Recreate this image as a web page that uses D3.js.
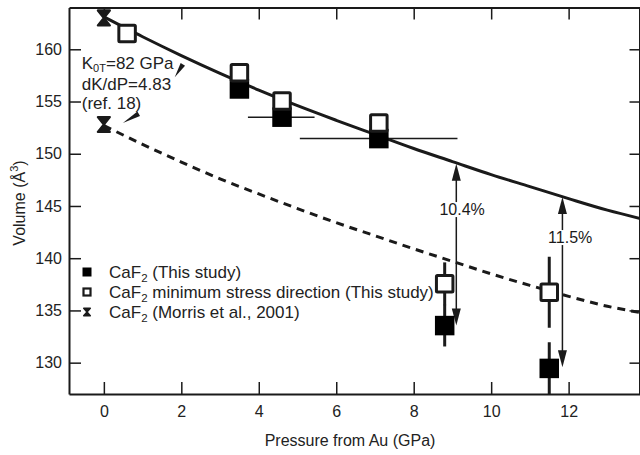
<!DOCTYPE html>
<html>
<head>
<meta charset="utf-8">
<script src="https://cdn.jsdelivr.net/npm/d3@7"></script>
<style>
  html, body { margin: 0; padding: 0; background: #fff; }
  svg { display: block; font-family: "Liberation Sans", Arial, sans-serif; }
</style>
</head>
<body>
<svg id="chart" width="640" height="455"></svg>
<script>
// ---------------- data ----------------
const xTicks = [0, 2, 4, 6, 8, 10, 12];
const yTicks = [130, 135, 140, 145, 150, 155, 160];

// CaF2 (This study) – filled squares
const filledP = [3.5, 4.6, 7.1, 8.8, 11.5];
const filledV = [156.2, 153.5, 151.45, 133.55, 129.45];
const filledXLo = [null, 3.72, 5.06, null, null];
const filledXHi = [null, 5.44, 9.13, null, null];
const filledYErr = [0, 0, 0, 2.0, 2.5];

// CaF2 minimum stress direction – open squares
const openP = [0.6, 3.5, 4.6, 7.1, 8.8, 11.5];
const openV = [161.5, 157.75, 155.05, 152.95, 137.55, 136.75];
const openYErr = [0, 0, 0, 0, 2.05, 3.4];

// CaF2 (Morris et al., 2001) – hourglass
const morrisP = [0, 0];
const morrisV = [163.0, 152.8];

// EOS curves
const curveP = [0, 1, 2, 3, 4, 5, 6, 7, 8, 9, 10, 11, 12, 13, 13.85];
const solidV = [163.1, 161.2, 159.4, 157.7, 156.1, 154.6, 153.2, 151.85, 150.5, 149.25, 148.0, 146.85, 145.7, 144.6, 143.8];
const dashedV = [152.7, 150.9, 149.2, 147.6, 146.15, 144.75, 143.4, 142.15, 140.9, 139.7, 138.5, 137.4, 136.35, 135.4, 134.8];

// difference arrows
const arrowP = [9.1, 11.84];
const arrowTop = [149.05, 145.85];
const arrowBottom = [133.55, 129.55];
const arrowLabels = ["10.4%", "11.5%"];
const arrowLabelP = [9.25, 12.04];
const arrowLabelV = [144.13, 141.45];

const legendLabels = [["CaF", "2", " (This study)"], ["CaF", "2", " minimum stress direction (This study)"], ["CaF", "2", " (Morris et al., 2001)"]];

// ---------------- layout ----------------
const svg = d3.select("#chart");
const L = 69, R = 639.5, T = 7.5, B = 394;
const x = d3.scaleLinear().domain([-0.9, 13.83]).range([L, R]);
const y = d3.scaleLinear().domain([127, 164]).range([B, T]);
const ink = "#1a1a1a";

svg.append("defs").append("clipPath").attr("id", "clip")
  .append("rect").attr("x", L).attr("y", T).attr("width", R - L).attr("height", B - T);

const plot = svg.append("g").attr("clip-path", "url(#clip)");

// curves
const line = d3.line().x(d => x(d[0])).y(d => y(d[1])).curve(d3.curveMonotoneX);
plot.append("path").datum(curveP.map((p, i) => [p, solidV[i]]))
  .attr("d", line).attr("fill", "none").attr("stroke", ink).attr("stroke-width", 3);
plot.append("path").datum(curveP.map((p, i) => [p, dashedV[i]]))
  .attr("d", line).attr("fill", "none").attr("stroke", ink).attr("stroke-width", 3)
  .attr("stroke-dasharray", "8,6");

// arrows
arrowP.forEach((p, i) => {
  const ax = x(p), y1 = y(arrowTop[i]), y2 = y(arrowBottom[i]);
  const hl = 17, hw = 4.5;
  plot.append("line").attr("x1", ax).attr("x2", ax).attr("y1", y1 + hl - 2).attr("y2", y2 - hl + 2)
    .attr("stroke", ink).attr("stroke-width", 1.5);
  plot.append("path").attr("d", `M${ax},${y1} L${ax + hw},${y1 + hl} L${ax - hw},${y1 + hl} Z`).attr("fill", ink);
  plot.append("path").attr("d", `M${ax},${y2} L${ax + hw},${y2 - hl} L${ax - hw},${y2 - hl} Z`).attr("fill", ink);
  const t = plot.append("text").attr("x", x(arrowLabelP[i])).attr("y", y(arrowLabelV[i]))
    .attr("text-anchor", "middle").attr("font-size", 16).attr("fill", ink).text(arrowLabels[i]);
  const bb = t.node().getBBox();
  plot.insert("rect", () => t.node()).attr("x", ax - 3).attr("y", bb.y + 1).attr("width", 6).attr("height", bb.height - 2)
    .attr("fill", "#fff");
});

// error bars
filledP.forEach((p, i) => {
  if (filledXLo[i] !== null) {
    plot.append("line").attr("x1", x(filledXLo[i])).attr("x2", x(filledXHi[i]))
      .attr("y1", y(filledV[i])).attr("y2", y(filledV[i])).attr("stroke", ink).attr("stroke-width", 1.5);
  }
  if (filledYErr[i] > 0) {
    plot.append("line").attr("x1", x(p)).attr("x2", x(p))
      .attr("y1", y(filledV[i] - filledYErr[i])).attr("y2", y(filledV[i] + filledYErr[i]))
      .attr("stroke", ink).attr("stroke-width", 3);
  }
});
openP.forEach((p, i) => {
  if (openYErr[i] > 0) {
    plot.append("line").attr("x1", x(p)).attr("x2", x(p))
      .attr("y1", y(openV[i] - openYErr[i])).attr("y2", y(openV[i] + openYErr[i]))
      .attr("stroke", ink).attr("stroke-width", 3);
  }
});

// markers
const sq = 19.5;
plot.selectAll(".filled").data(filledP.map((p, i) => [p, filledV[i]])).join("rect")
  .attr("x", d => x(d[0]) - sq / 2).attr("y", d => y(d[1]) - sq / 2)
  .attr("width", sq).attr("height", sq).attr("fill", "#000");
const os = 16.5;
plot.selectAll(".open").data(openP.map((p, i) => [p, openV[i]])).join("rect")
  .attr("x", d => x(d[0]) - os / 2).attr("y", d => y(d[1]) - os / 2)
  .attr("width", os).attr("height", os).attr("fill", "#fff")
  .attr("stroke", ink).attr("stroke-width", 3).attr("rx", 1);
const hg = (w, h) => `M${-w},${-h} L${w},${-h} L0,0 L${w},${h} L${-w},${h} L0,0 Z`;
plot.selectAll(".morris").data(morrisP.map((p, i) => [p, morrisV[i]])).join("path")
  .attr("transform", d => `translate(${x(d[0])},${y(d[1])})`)
  .attr("d", hg(6, 7.5)).attr("fill", ink).attr("stroke", ink).attr("stroke-width", 2.2)
  .attr("stroke-linejoin", "round");

// axes
function styleAxis(g) {
  g.selectAll("path.domain").attr("stroke", ink).attr("stroke-width", 2);
  g.selectAll(".tick line").attr("stroke", ink).attr("stroke-width", 1.5);
  g.selectAll("text").attr("font-size", 16).attr("fill", "#222")
    .attr("font-family", "'Liberation Sans', Arial, sans-serif");
}
svg.append("g").attr("transform", `translate(0,${B})`)
  .call(d3.axisBottom(x).tickValues(xTicks).tickSizeInner(-12).tickSizeOuter(0).tickPadding(12))
  .call(styleAxis);
svg.append("g").attr("transform", `translate(0,${T})`)
  .call(d3.axisTop(x).tickValues(xTicks).tickSizeInner(-12).tickSizeOuter(0).tickFormat(""))
  .call(styleAxis);
svg.append("g").attr("transform", `translate(${L},0)`)
  .call(d3.axisLeft(y).tickValues(yTicks).tickSizeInner(-12).tickSizeOuter(0).tickPadding(7))
  .call(styleAxis);
svg.append("g").attr("transform", `translate(${R},0)`)
  .call(d3.axisRight(y).tickValues(yTicks).tickSizeInner(-10).tickSizeOuter(0).tickFormat(""))
  .call(styleAxis);

// axis titles
svg.append("text").attr("x", 350).attr("y", 446).attr("text-anchor", "middle")
  .attr("font-size", 16).attr("fill", "#222").text("Pressure from Au (GPa)");
const yl = svg.append("text").attr("transform", "translate(25,203) rotate(-90)")
  .attr("text-anchor", "middle").attr("font-size", 16).attr("fill", "#222");
yl.append("tspan").text("Volume (Å");
yl.append("tspan").attr("font-size", 11).attr("dy", -7).text("3");
yl.append("tspan").attr("dy", 7).text(")");

// EOS annotation
const ann = svg.append("g").attr("fill", "#222").attr("font-size", 17);
const ax0 = x(-0.57);
const t1 = ann.append("text").attr("x", ax0).attr("y", y(158.15));
t1.append("tspan").text("K");
t1.append("tspan").attr("font-size", 11).attr("dy", 3).text("0T");
t1.append("tspan").attr("dy", -3).text("=82 GPa");
ann.append("text").attr("x", ax0).attr("y", y(156.15)).text("dK/dP=4.83");
ann.append("text").attr("x", ax0).attr("y", y(154.3)).text("(ref. 18)");

// pointer wedges (data-space tips and bases)
const wedges = [[[1.83, 157.32], [2.04, 158.56]], [[0.49, 152.95], [0.90, 153.83]]];
wedges.forEach(([tip, base]) => {
  const tx = x(tip[0]), ty = y(tip[1]), bx = x(base[0]), by = y(base[1]);
  const dx = bx - tx, dy = by - ty, len = Math.hypot(dx, dy);
  const px = -dy / len * 2.6, py = dx / len * 2.6;
  svg.append("path").attr("d", `M${tx},${ty} L${bx + px},${by + py} L${bx - px},${by - py} Z`).attr("fill", ink);
});

// legend
const lgX = 87, lgY = [272, 292, 312];
const lg = svg.append("g");
lg.append("rect").attr("x", lgX - 4.5).attr("y", lgY[0] - 4.5).attr("width", 9).attr("height", 9).attr("fill", "#000");
lg.append("rect").attr("x", lgX - 3.5).attr("y", lgY[1] - 3.5).attr("width", 7).attr("height", 7)
  .attr("fill", "#fff").attr("stroke", ink).attr("stroke-width", 2.2);
lg.append("path").attr("transform", `translate(${lgX},${lgY[2]})`).attr("d", hg(3.3, 3.8))
  .attr("fill", ink).attr("stroke", ink).attr("stroke-width", 1.5).attr("stroke-linejoin", "round");
legendLabels.forEach((parts, i) => {
  const t = lg.append("text").attr("x", 109).attr("y", lgY[i] + 6).attr("font-size", 17).attr("fill", "#222");
  t.append("tspan").text(parts[0]);
  t.append("tspan").attr("font-size", 11.5).attr("dy", 4).text(parts[1]);
  t.append("tspan").attr("dy", -4).text(parts[2]);
});
</script>
</body>
</html>
